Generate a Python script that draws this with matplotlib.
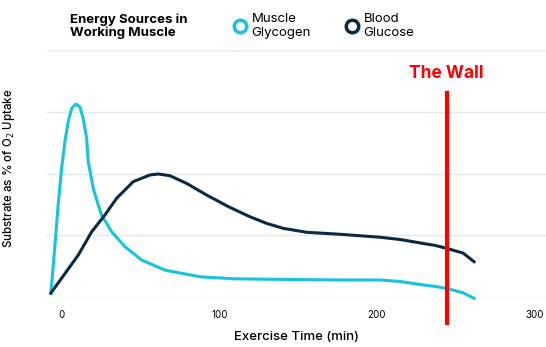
import numpy as np
import matplotlib.pyplot as plt
from matplotlib.lines import Line2D

plt.rcParams['font.family'] = ['Inter', 'DejaVu Sans']

# exercise time (min) and substrate (% of O2 uptake)
glyco_t = [-7.0, -4.4, -2.4, -0.2, 1.9, 4.0, 6.2, 8.9, 11.4, 13.5, 15.7, 16.7,
           19.9, 23.1, 25.2, 31.6, 40.0, 50.6, 65.4, 87.7, 108.6, 130.1, 176.6,
           202.0, 214.7, 229.4, 237.0, 244.4, 254.8, 261.8]
glyco_v = [1.5, 21.1, 37.2, 52.1, 62.9, 71.0, 76.4, 78.1, 77.0, 72.3, 64.3, 54.8,
           44.0, 37.2, 33.2, 26.4, 20.4, 15.0, 10.9, 8.2, 7.4, 7.2, 6.9,
           6.9, 6.3, 4.9, 4.3, 3.5, 1.7, -0.5]

gluc_t = [-7.0, 10.4, 18.9, 27.3, 34.8, 45.3, 55.9, 61.2, 68.6, 79.2, 91.9,
          105.7, 119.4, 130.1, 140.6, 155.5, 176.6, 202.0, 214.7, 229.4, 237.0,
          244.4, 254.8, 261.8]
gluc_v = [1.6, 17.0, 26.4, 33.2, 40.0, 46.7, 49.4, 49.8, 49.1, 46.0, 41.3,
          36.6, 32.5, 29.8, 27.8, 26.2, 25.4, 24.2, 23.3, 21.7, 20.9,
          19.7, 17.8, 14.3]

wall_t = 244.4
xticks = [0, 100, 200, 300]

cyan = '#17c3de'
navy = '#0b2a42'

fig = plt.figure(figsize=(5.46, 3.47), dpi=100)
ax = fig.add_axes([0.086, 0.144, 0.914, 0.712])

ax.plot(glyco_t, glyco_v, color=cyan, lw=2.2, clip_on=False, zorder=3,
        solid_joinstyle='round')
ax.plot(gluc_t, gluc_v, color=navy, lw=2.2, clip_on=False, zorder=3,
        solid_joinstyle='round')

ax.plot([wall_t, wall_t], [82.5, -10.5], color='#ff0000', lw=3, clip_on=False, zorder=4)
ax.text(wall_t, 90.5, 'The Wall', color='#ff0000', fontsize=12.5, fontweight='bold',
        ha='center', va='center')

ax.set_xlim(-9.5, 307.5)
ax.set_ylim(0, 100)
ax.set_yticks([0, 25, 50, 75, 100])
ax.set_yticklabels([])
ax.set_xticks(xticks)
ax.set_xticklabels([str(t) for t in xticks], fontsize=7)
ax.tick_params(length=0)
ax.tick_params(axis='x', pad=9)
ax.grid(axis='y', color='#e6e8e8', lw=1)
ax.set_axisbelow(True)
for s in ax.spines.values():
    s.set_visible(False)

ax.set_xlabel('Exercise Time (min)', fontsize=9.5, fontweight='medium', labelpad=8)
ax.set_ylabel('Substrate as % of O$_2$ Uptake', fontsize=8.3, fontweight='medium')
ax.yaxis.set_label_coords(-0.06, 0.52)

fig.text(0.128, 0.925, 'Energy Sources in\nWorking Muscle', fontsize=9.5, fontweight='bold',
         ha='left', va='center', linespacing=1.1)

handles = [Line2D([], [], ls='none', marker='o', ms=9, mfc='white', mec=cyan, mew=2.5),
           Line2D([], [], ls='none', marker='o', ms=9, mfc='white', mec=navy, mew=2.5)]
fig.legend(handles, ['Muscle\nGlycogen', 'Blood\nGlucose'], ncol=2, frameon=False,
           loc='center left', bbox_to_anchor=(0.405, 0.925), fontsize=9.5,
           handletextpad=0.4, columnspacing=2.6, handlelength=1.0)

fig.savefig('out.png', dpi=100)
